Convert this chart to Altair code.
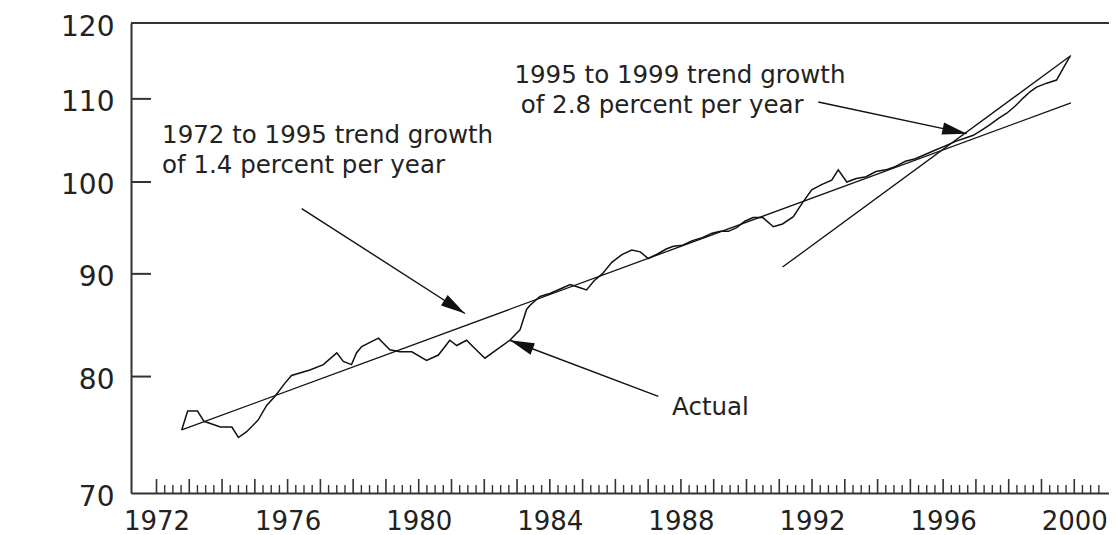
import altair as alt
import pandas as pd

# ---- Actual series (vertices) ----
actual_year = [
    1972.77, 1972.95, 1973.25, 1973.45, 1973.95, 1974.30, 1974.50, 1974.75,
    1975.10, 1975.36, 1975.61, 1975.92, 1976.12, 1976.68, 1977.09, 1977.50,
    1977.70, 1977.95, 1978.10, 1978.26, 1978.77, 1979.12, 1979.43, 1979.79,
    1980.24, 1980.60, 1980.95, 1981.16, 1981.46, 1981.72, 1982.02, 1982.38,
    1982.78, 1983.09, 1983.29, 1983.39, 1983.70, 1984.00, 1984.35, 1984.62,
    1984.90, 1985.12, 1985.35, 1985.60, 1985.89, 1986.20, 1986.50, 1986.76,
    1987.00, 1987.30, 1987.55, 1987.77, 1988.05, 1988.35, 1988.65, 1988.95,
    1989.20, 1989.45, 1989.70, 1989.95, 1990.20, 1990.50, 1990.82, 1991.10,
    1991.43, 1991.70, 1991.99, 1992.29, 1992.60, 1992.80, 1993.06, 1993.35,
    1993.65, 1993.95, 1994.25, 1994.55, 1994.85, 1995.15, 1995.45, 1995.75,
    1996.05, 1996.40, 1996.70, 1996.92, 1997.20, 1997.43, 1997.70, 1997.94,
    1998.20, 1998.44, 1998.65, 1998.85, 1999.16, 1999.46, 1999.66, 1999.87,
]
actual_value = [
    75.25, 76.9, 76.9, 76.0, 75.5, 75.5, 74.6, 75.1,
    76.1, 77.4, 78.2, 79.4, 80.1, 80.6, 81.1, 82.2,
    81.4, 81.1, 82.2, 82.8, 83.6, 82.5, 82.3, 82.3,
    81.5, 82.0, 83.4, 82.9, 83.4, 82.6, 81.7, 82.5,
    83.4, 84.4, 86.4, 86.8, 87.7, 88.0, 88.5, 88.9,
    88.6, 88.35, 89.3, 90.0, 91.2, 92.0, 92.5, 92.3,
    91.6, 92.1, 92.6, 92.9, 93.0, 93.5, 93.8, 94.3,
    94.5, 94.5, 94.9, 95.6, 96.0, 96.0, 95.0, 95.3,
    96.1, 97.6, 99.1, 99.7, 100.2, 101.4, 100.0, 100.4,
    100.6, 101.2, 101.4, 101.8, 102.4, 102.7, 103.2, 103.7,
    104.2, 104.8, 105.2, 105.5, 106.2, 106.8, 107.6, 108.2,
    109.1, 110.1, 110.9, 111.5, 112.0, 112.4, 113.9, 115.5,
]

# ---- Trend lines (end points) ----
trend1_year = [1972.77, 1999.90]
trend1_value = [75.25, 109.5]
trend2_year = [1991.10, 1999.90]
trend2_value = [90.7, 115.6]

# ---- Axes ----
x_tick_labels = [1972, 1976, 1980, 1984, 1988, 1992, 1996, 2000]
y_tick_labels = [70, 80, 90, 100, 110, 120]
y_inner_ticks = [80, 90, 100, 110]
major_ticks = list(range(1972, 2001))
minor_ticks = [yr + q / 4 for yr in range(1972, 2001) for q in (1, 2, 3) if yr + q / 4 <= 2000.75]

# ---- Annotations ----
ann_text = ["1972 to 1995 trend growth", "of 1.4 percent per year",
            "1995 to 1999 trend growth", "of 2.8 percent per year", "Actual"]
ann_year = [1972.17, 1972.17, 1982.92, 1983.11, 1987.73]
ann_value = [104.6, 101.0, 112.0, 108.2, 76.56]

arrow_tail_year = [1976.43, 1987.31, 1992.19]
arrow_tail_value = [97.0, 78.2, 109.6]
arrow_tip_year = [1981.41, 1982.78, 1996.72]
arrow_tip_value = [86.0, 83.4, 105.7]
arrow_angle = [122.7, 290.9, 102.0]

W, H = 978, 470
FONT = "DejaVu Sans"
INK = "#111111"
TXT = "#222222"

xscale = alt.Scale(domain=[1971.222, 2001.06], nice=False, zero=False)
yscale = alt.Scale(type="log", domain=[70, 120], nice=False)

X = alt.X("year:Q", scale=xscale, title=None,
          axis=alt.Axis(values=x_tick_labels, format="d", ticks=False, grid=False,
                        labelFont=FONT, labelFontSize=26, labelColor=TXT,
                        labelPadding=15, domainColor="#333333", domainWidth=2,
                        labelFlush=False, labelOverlap=False))
Y = alt.Y("value:Q", scale=yscale, title=None,
          axis=alt.Axis(values=y_tick_labels, format="d", ticks=False, grid=False,
                        labelFont=FONT, labelFontSize=28, labelColor=TXT,
                        labelPadding=17, labelOffset=4, domainColor="#333333",
                        domainWidth=2, labelFlush=False, labelOverlap=False))

actual_df = pd.DataFrame({"year": actual_year, "value": actual_value})
trend_df = pd.DataFrame({
    "year": trend1_year + trend2_year,
    "value": trend1_value + trend2_value,
    "series": ["t1", "t1", "t2", "t2"],
})
ann_df = pd.DataFrame({"year": ann_year, "value": ann_value, "text": ann_text})
arrow_df = pd.DataFrame({
    "year": arrow_tail_year, "value": arrow_tail_value,
    "year2": arrow_tip_year, "value2": arrow_tip_value,
})
head_df = pd.DataFrame({"year": arrow_tip_year, "value": arrow_tip_value, "angle": arrow_angle})
major_df = pd.DataFrame({"year": major_ticks})
minor_df = pd.DataFrame({"year": minor_ticks})
yt_df = pd.DataFrame({"value": y_inner_ticks})
one_df = pd.DataFrame({"a": [0]})

actual = alt.Chart(actual_df).mark_line(color=INK, strokeWidth=1.5).encode(x=X, y=Y)
trends = alt.Chart(trend_df).mark_line(color=INK, strokeWidth=1.3).encode(x=X, y=Y, detail="series:N")

texts = alt.Chart(ann_df).mark_text(align="left", baseline="alphabetic", font=FONT,
                                    fontSize=24.5, color=TXT).encode(x=X, y=Y, text="text:N")
arrows = alt.Chart(arrow_df).mark_rule(color=INK, strokeWidth=1.4).encode(
    x=X, y=Y, x2="year2:Q", y2="value2:Q")
heads = alt.Chart(head_df).mark_point(shape="M0,0L0.5,2L-0.5,2Z", filled=True, size=600,
                                      color=INK, opacity=1, strokeWidth=0).encode(
    x=X, y=Y, angle=alt.Angle("angle:Q", scale=None))

major = alt.Chart(major_df).mark_rule(color="#333333", strokeWidth=1.6).encode(
    x=X, y=alt.value(H), y2=alt.value(H - 14))
minor = alt.Chart(minor_df).mark_rule(color="#333333", strokeWidth=1.4).encode(
    x=X, y=alt.value(H), y2=alt.value(H - 8))
yticks = alt.Chart(yt_df).mark_rule(color="#333333", strokeWidth=2).encode(
    y=Y, x=alt.value(0), x2=alt.value(20))
topline = alt.Chart(one_df).mark_rule(color="#333333", strokeWidth=2).encode(
    x=alt.value(0), x2=alt.value(W), y=alt.value(0))

chart = alt.layer(actual, trends, arrows, heads, texts, major, minor, yticks, topline).properties(
    width=W, height=H,
    autosize=alt.AutoSizeParams(type="none"),
    padding={"left": 123, "top": 15, "right": 0, "bottom": 50},
).configure_view(stroke=None).configure(background="white")

chart.save("out.html", embed_options={"renderer": "svg", "actions": False})
